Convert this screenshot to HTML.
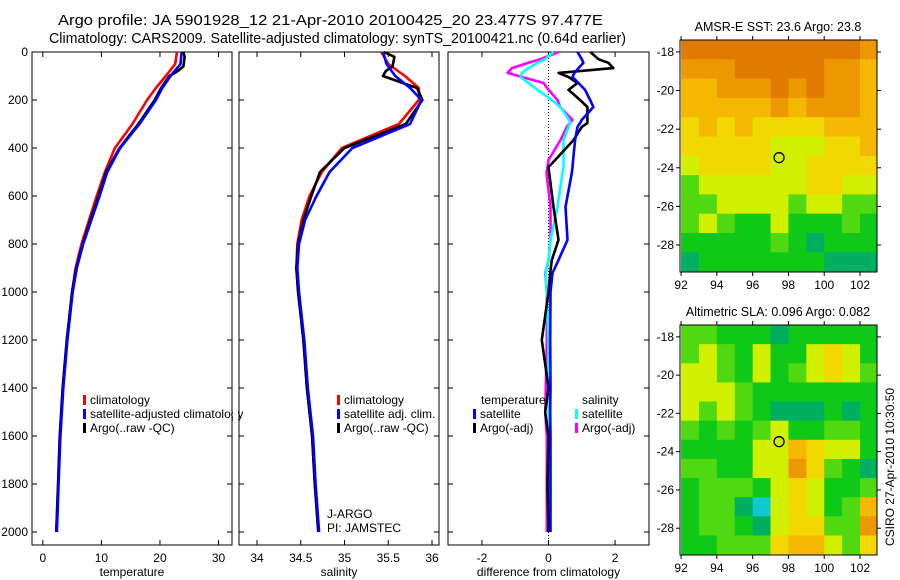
<!DOCTYPE html>
<html><head><meta charset="utf-8"><style>
body{margin:0;background:#fff;}
svg{display:block;font-family:"Liberation Sans",sans-serif;}
</style></head><body>
<svg id="fig" width="900" height="580" viewBox="0 0 900 580" xmlns="http://www.w3.org/2000/svg">
<rect width="900" height="580" fill="#fff"/>
<text x="58" y="25" font-size="14.5" textLength="545" lengthAdjust="spacingAndGlyphs">Argo profile: JA 5901928_12 21-Apr-2010 20100425_20 23.477S 97.477E</text>
<text x="49" y="43" font-size="14.5" textLength="577" lengthAdjust="spacingAndGlyphs">Climatology: CARS2009. Satellite-adjusted climatology: synTS_20100421.nc (0.64d earlier)</text>
<text x="778" y="31" font-size="12.5" text-anchor="middle">AMSR-E SST: 23.6 Argo: 23.8</text>
<text x="778" y="316" font-size="12.5" text-anchor="middle">Altimetric SLA: 0.096 Argo: 0.082</text>
<text x="0" y="0" font-size="12" text-anchor="middle" transform="translate(894,467) rotate(-90)">CSIRO 27-Apr-2010 10:30:50</text>
<g id="layer"></g>
</svg>
<script>
// ---- profile data ----
const depthClim = [0,50,100,150,200,300,400,500,600,700,800,900,1000,1200,1400,1600,1800,2000];
const tempClim  = [22.9,22.6,21.0,19.3,17.8,15.3,12.3,10.6,9.2,7.9,6.6,5.6,5.0,4.1,3.4,2.9,2.6,2.3];
const tempSat   = [23.7,23.5,21.8,20.4,19.3,16.5,13.2,11.0,9.7,8.3,6.9,5.8,5.1,4.2,3.5,3.0,2.7,2.4];
const depthArgo = [0,20,60,80,100,150,200,300,400,500,600,700,800,900,1000,1200,1400,1600,1800,2000];
const tempArgo  = [24.0,24.2,24.0,23.0,21.6,20.2,19.1,16.3,13.1,10.8,9.5,8.1,6.8,5.7,5.0,4.1,3.4,2.9,2.6,2.3];
const salClim   = [35.42,35.50,35.69,35.85,35.85,35.62,34.97,34.74,34.60,34.51,34.46,34.45,34.47,34.53,34.57,34.63,34.66,34.70];
const salSat    = [35.44,35.48,35.58,35.75,35.88,35.75,35.09,34.83,34.68,34.55,34.48,34.46,34.48,34.54,34.58,34.64,34.67,34.71];
const salArgo   = [35.45,35.57,35.55,35.47,35.44,35.83,35.89,35.70,35.00,34.72,34.62,34.53,34.47,34.45,34.47,34.53,34.57,34.63,34.66,34.70];
const depthDiff = [0,30,45,67,87,104,129,158,200,229,283,296,312,367,450,479,504,646,783,867,921,1000,1200,1400,1500,1600,1800,2000];
const diffTempSat  = [0.87,1.0,1.05,0.9,0.78,0.72,0.9,1.1,1.25,1.35,1.0,0.95,0.87,0.8,0.74,0.72,0.7,0.51,0.57,0.3,0.12,0.06,0.05,0.06,0.05,0.06,0.06,0.06];
const diffTempArgo = [1.26,1.5,1.8,1.95,0.3,0.6,0.87,0.6,0.95,1.17,1.17,1.17,1.0,0.75,0.2,0.0,0.02,0.15,0.3,0.1,0.05,0.0,-0.2,0.0,-0.1,0.0,-0.03,0.0];
const diffSalSat   = [0.15,-0.1,-0.33,-0.6,-0.8,-0.84,-0.6,-0.33,0.1,0.36,0.62,0.66,0.6,0.45,0.45,0.45,0.42,0.27,0.06,0.0,-0.09,-0.05,0.0,0.0,0.0,0.02,0.02,0.02];
const diffSalArgo  = [0.3,-0.24,-0.6,-1.1,-1.23,-0.8,-0.15,0.0,0.27,0.35,0.72,0.65,0.55,0.36,0.0,-0.03,-0.06,0.06,0.06,0.0,-0.1,-0.05,-0.05,-0.08,-0.1,-0.05,-0.05,-0.05];
const depthTicks = [0,200,400,600,800,1000,1200,1400,1600,1800,2000];
const tempTicks = [0,10,20,30];
const salTicks = [34,34.5,35,35.5,36];
const salTickLabels = ["34","34.5","35","35.5","36"];
const diffTicks = [-2,0,2];
// ---- map data (1-degree cells, rows from -17.4 southward, cols from 92E) ----
const sstGrid = [
[8,8,8,8,8,8,8,8,8,8,7],
[7,7,7,8,8,8,8,8,7,7,6],
[6,6,7,7,7,8,7,8,7,7,6],
[6,6,6,6,6,7,6,7,7,7,6],
[5,6,5,6,5,5,5,5,6,6,6],
[5,5,5,5,5,4,4,4,5,5,6],
[4,5,5,5,5,4,4,5,5,5,5],
[3,4,4,4,4,4,4,5,5,4,4],
[3,3,4,4,4,4,3,4,4,3,3],
[3,4,3,2,2,4,2,2,2,3,2],
[2,2,2,2,2,3,2,1,2,2,2],
[1,2,2,2,2,2,2,2,1,1,1]];
const slaGrid = [
[3,3,2,2,2,1,2,2,2,2,2],
[3,4,3,2,4,2,2,4,5,4,2],
[4,4,3,2,4,2,3,4,5,4,3],
[4,4,4,3,2,2,2,2,2,2,2],
[4,3,4,3,2,1,1,1,2,1,2],
[3,2,3,2,3,4,2,2,3,3,2],
[2,2,2,2,4,4,6,5,4,4,2],
[3,3,2,2,4,4,7,5,3,2,1],
[2,3,3,3,2,4,5,4,2,2,3],
[2,3,3,1,0,4,5,4,2,3,6],
[2,3,3,2,1,4,5,5,3,3,7],
[2,2,3,3,3,5,6,6,4,3,5]];
const floatLon = 97.477, floatLat = -23.477;
const lonTicks=[92,94,96,98,100,102];
const latTicks=[-18,-20,-22,-24,-26,-28];

const palette=["#10c8d0","#00b060","#10c818","#50d810","#d0f000","#f0d800","#f4b800","#ec9800","#e07a00","#c84008"];
const NS="http://www.w3.org/2000/svg";
const layer=document.getElementById('layer');
function mk(tag,attrs,parent){const e=document.createElementNS(NS,tag);for(const k in attrs)e.setAttribute(k,attrs[k]);(parent||layer).appendChild(e);return e;}

const top0=52, yScale=0.24, pBottom=545;
const yD=d=>top0+d*yScale;
const panels=[
 {x0:32,x1:232,lo:-1.85,hi:32.3,name:'temperature'},
 {x0:239,x1:439,lo:33.794,hi:36.08,name:'salinity'},
 {x0:448,x1:649,lo:-3.02,hi:3.02,name:'difference'}];
function xf(p){return v=>p.x0+(v-p.lo)/(p.hi-p.lo)*(p.x1-p.x0);}

function drawLine(p,depths,vals,color,name){
  const X=xf(p);
  const g=mk('path',{d:vals.map((v,i)=>(i?'L':'M')+X(v).toFixed(1)+','+yD(depths[i]).toFixed(1)).join(''),fill:'none',stroke:color,'stroke-width':2.6,'stroke-linejoin':'round'});
  
  
}
function panelFrame(p,ticks,labels,xlabel,showY,idx){
  const X=xf(p);
  const r=mk('rect',{x:p.x0,y:top0,width:p.x1-p.x0,height:pBottom-top0,fill:'none',stroke:'#000','stroke-width':1});
  
  
  depthTicks.forEach(d=>{
    mk('line',{x1:p.x0,x2:p.x0+5,y1:yD(d),y2:yD(d),stroke:'#000'});
    mk('line',{x1:p.x1,x2:p.x1-5,y1:yD(d),y2:yD(d),stroke:'#000'});
    if(showY){const t=mk('text',{x:p.x0-4,y:yD(d)+4,'font-size':12,'text-anchor':'end'});t.textContent=d;
      
      }
  });
  ticks.forEach((v,i)=>{
    mk('line',{x1:X(v),x2:X(v),y1:pBottom,y2:pBottom-5,stroke:'#000'});
    mk('line',{x1:X(v),x2:X(v),y1:top0,y2:top0+5,stroke:'#000'});
    const t=mk('text',{x:X(v),y:pBottom+17,'font-size':12,'text-anchor':'middle'});t.textContent=labels[i];
    
    
  });
  const xl=mk('text',{x:(p.x0+p.x1)/2,y:576,'font-size':12,'text-anchor':'middle'});xl.textContent=xlabel;
  
  
}
panelFrame(panels[0],tempTicks,tempTicks.map(String),'temperature',true,1);
panelFrame(panels[1],salTicks,salTickLabels,'salinity',false,2);
panelFrame(panels[2],diffTicks,diffTicks.map(String),'difference from climatology',false,3);
const zx=xf(panels[2])(0);
const zl=mk('line',{x1:zx,x2:zx,y1:top0,y2:pBottom,stroke:'#000','stroke-dasharray':'1,2','stroke-width':1});



drawLine(panels[0],depthClim,tempClim,'#ff0000','temp-climatology-line');
drawLine(panels[0],depthArgo,tempArgo,'#000','temp-argo-line');
drawLine(panels[0],depthClim,tempSat,'#0000ff','temp-satellite-line');
drawLine(panels[1],depthClim,salClim,'#ff0000','sal-climatology-line');
drawLine(panels[1],depthArgo,salArgo,'#000','sal-argo-line');
drawLine(panels[1],depthClim,salSat,'#0000ff','sal-satellite-line');
drawLine(panels[2],depthDiff,diffSalArgo,'#ff00ff','diff-sal-argo-line');
drawLine(panels[2],depthDiff,diffSalSat,'#00ffff','diff-sal-sat-line');
drawLine(panels[2],depthDiff,diffTempArgo,'#000','diff-temp-argo-line');
drawLine(panels[2],depthDiff,diffTempSat,'#0000ff','diff-temp-sat-line');

function legendEntry(x,y,color,label){
  if(color){const m=mk('rect',{x:x,y:y-9,width:3,height:10,fill:color});
    
    }
  const t=mk('text',{x:x+7,y:y,'font-size':12});t.textContent=label;
  
  
}
legendEntry(83,404,'#ff0000','climatology');
legendEntry(83,418,'#0000ff','satellite-adjusted climatology');
legendEntry(83,432,'#000','Argo(..raw -QC)');
mk('rect',{x:233,y:405,width:5,height:16,fill:'#fff'});
legendEntry(337,404,'#ff0000','climatology');
legendEntry(337,418,'#0000ff','satellite adj. clim.');
legendEntry(337,432,'#000','Argo(..raw -QC)');
const ja=mk('text',{x:327,y:518,'font-size':12});ja.textContent='J-ARGO';


const pi=mk('text',{x:327,y:532,'font-size':12});pi.textContent='PI: JAMSTEC';


legendEntry(474,404,null,'temperature');
legendEntry(473,418,'#0000ff','satellite');
legendEntry(473,432,'#000','Argo(-adj)');
legendEntry(575,404,null,'salinity');
legendEntry(575,418,'#00ffff','satellite');
legendEntry(575,432,'#ff00ff','Argo(-adj)');

function drawMap(grid,y0,y1,name){
  const x0=680,x1=877,lon0=91.94,lon1=102.95,lat0=-17.38,lat1=-29.4;
  const X=l=>x0+(l-lon0)/(lon1-lon0)*(x1-x0);
  const Y=l=>y0+(l-lat0)/(lat1-lat0)*(y1-y0);
  const g=mk('g',{});
  
  
  grid.forEach((row,r)=>row.forEach((v,c)=>{
    const xa=Math.max(x0,X(92+c)), xb=Math.min(x1,X(93+c));
    const ya=Y(-17.38-r), yb=Math.min(y1,Y(-18.38-r));
    const cell=mk('rect',{x:xa,y:ya,width:xb-xa+0.5,height:yb-ya+0.5,fill:palette[v]},g);
    
    
  }));
  mk('rect',{x:x0,y:y0,width:x1-x0,height:y1-y0,fill:'none',stroke:'#000'});
  lonTicks.forEach(l=>{mk('line',{x1:X(l),x2:X(l),y1:y1,y2:y1+4,stroke:'#000'});mk('line',{x1:X(l),x2:X(l),y1:y0,y2:y0-4,stroke:'#000'});
    const t=mk('text',{x:X(l),y:y1+17,'font-size':12,'text-anchor':'middle'});t.textContent=l;
    
    });
  latTicks.forEach(l=>{mk('line',{x1:x0,x2:x0-4,y1:Y(l),y2:Y(l),stroke:'#000'});mk('line',{x1:x1,x2:x1+4,y1:Y(l),y2:Y(l),stroke:'#000'});
    const t=mk('text',{x:x0-6,y:Y(l)+4,'font-size':12,'text-anchor':'end'});t.textContent=l;
    
    });
  const c=mk('circle',{cx:X(floatLon),cy:Y(floatLat),r:5,fill:'none',stroke:'#000','stroke-width':1.3});
  
  
}
drawMap(sstGrid,40,272,'sst-map');
drawMap(slaGrid,325,555,'sla-map');
</script>
</body></html>
